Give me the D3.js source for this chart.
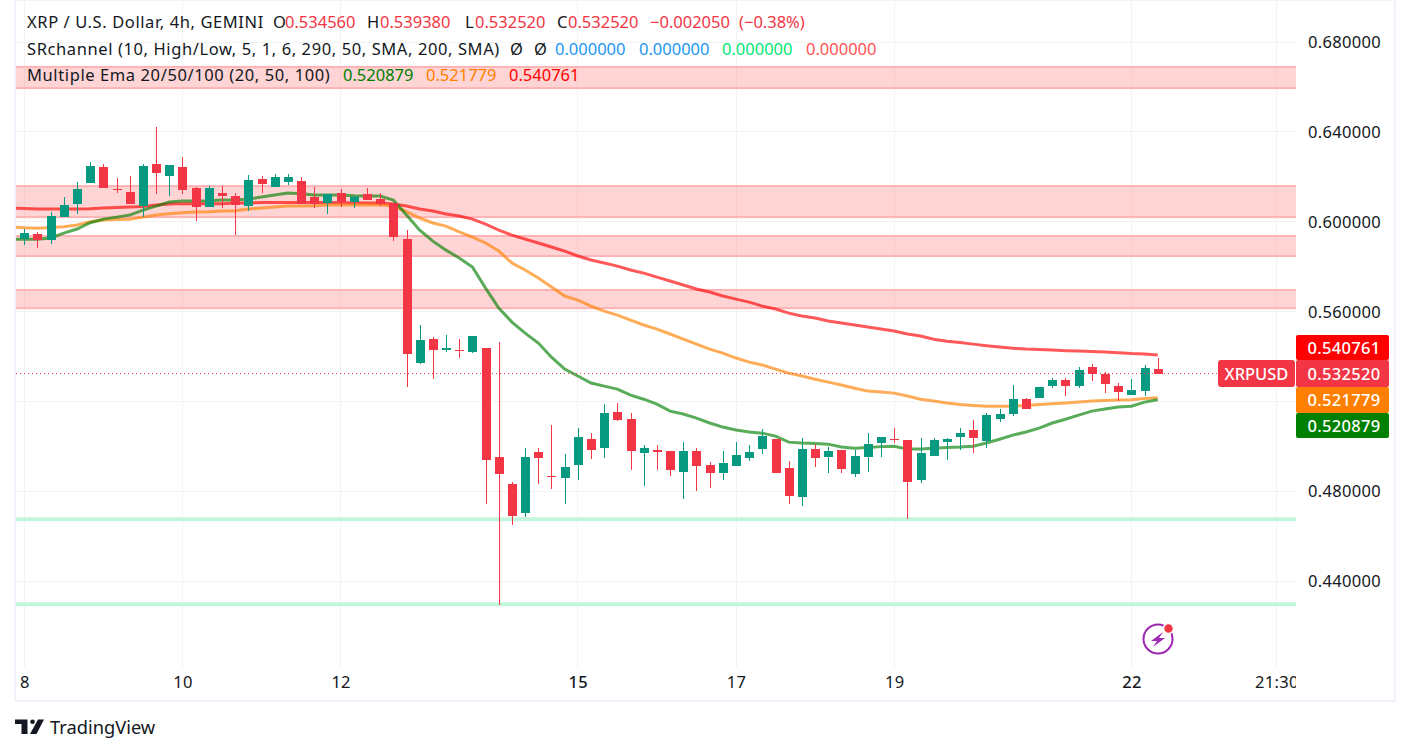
<!DOCTYPE html>
<html>
<head>
<meta charset="utf-8">
<script src="https://cdn.jsdelivr.net/npm/d3@7"></script>
<style>
  body { margin: 0; background: #fff; }
  svg { display: block; }
  text { font-family: "Noto Sans", sans-serif; }
  .legend text { font-size: 16.5px; }
  .axis path, .axis line { display: none; }
  .axis text { font-size: 16.5px; letter-spacing: .3px; fill: #131722; }
</style>
</head>
<body>
<svg width="1410" height="754"></svg>
<script>
// candles, 4h, one per index
const opens = [.5923,.5946,.5919,.6021,.6079,.6173,.6244,.6146,.6133,.6070,.6257,.6204,.6244,.6150,.6066,.6128,.6115,.6070,.6190,.6155,.6177,.6181,.6110,.6084,.6128,.6088,.6124,.6102,.6084,.5923,
  .5372,.5478,.5429,.5430,.5420,.5438,.4953,.4833,.4704,.4976,.4869,.4860,.4918,.5034,.4993,.5154,.5122,.4971,.4985,.4980,.4887,.4980,.4918,.4882,.4913,.4949,.4989,.5034,.4904,
  .4775,.4989,.4953,.4984,.4878,.4953,.5016,.5033,.5029,.4851,.4958,.5020,.5042,.5074,.5025,.5122,.5145,.5211,.5216,.5269,.5296,.5269,.5354,.5323,.5269,.5229,.5247,.53456]
const highs = [.5968,.5955,.6044,.6110,.6177,.6266,.6257,.6195,.6204,.6257,.6422,.6253,.6288,.6155,.6159,.6159,.6128,.6208,.6204,.6213,.6213,.6199,.6155,.6124,.6146,.6119,.6150,.6128,.6084,.5964,
  .5541,.5487,.5496,.5478,.5492,.5438,.5465,.4842,.4993,.4993,.5096,.4967,.5082,.5060,.5189,.5194,.5149,.5007,.5007,.4980,.5020,.4993,.4931,.4980,.5020,.5007,.5078,.5034,.4936,
  .5038,.5011,.4998,.4984,.4984,.5060,.5042,.5082,.5029,.5038,.5038,.5038,.5082,.5118,.5149,.5167,.5274,.5216,.5265,.5305,.5305,.5354,.5367,.5332,.5283,.5300,.5363,.53938]
const lows = [.5897,.5883,.5901,.6021,.6035,.6173,.6150,.6128,.6079,.6021,.6124,.6115,.6124,.6004,.6066,.6061,.5941,.6048,.6128,.6155,.6164,.6079,.6061,.6035,.6066,.6061,.6097,.6070,.5914,.5265,
  .5367,.5300,.5421,.5394,.5416,.4744,.4295,.4651,.4686,.4833,.4811,.4744,.4851,.4944,.4949,.5114,.4896,.4824,.4896,.4869,.4767,.4802,.4816,.4851,.4913,.4936,.4967,.4882,.4744,
  .4735,.4909,.4882,.4882,.4864,.4887,.4953,.5016,.4677,.4838,.4958,.4940,.4984,.4971,.4994,.5109,.5136,.5167,.5216,.5260,.5225,.5260,.5291,.5238,.5203,.5229,.5225,.53252]
const closes = [.5950,.5919,.6026,.6075,.6146,.6248,.6150,.6143,.6079,.6248,.6217,.6253,.6141,.6066,.6150,.6115,.6075,.6186,.6168,.6199,.6199,.6079,.6079,.6124,.6088,.6110,.6097,.6079,.5932,.5412,
  .5474,.5429,.5438,.5427,.5492,.4940,.4878,.4691,.4953,.4949,.4866,.4909,.5042,.4985,.5149,.5118,.4980,.4993,.4976,.4896,.4980,.4913,.4882,.4927,.4962,.4976,.5047,.4882,.4780,
  .4989,.4949,.4980,.4900,.4958,.5011,.5042,.5030,.4842,.4971,.5029,.5033,.5060,.5038,.5140,.5145,.5211,.5167,.5265,.5296,.5269,.5340,.5323,.5278,.5243,.5251,.5349,.53252]

// ema lines begin one candle before the first visible one
const ema20 = [.5923,.5923,.5923,.5928,.5950,.5968,.5996,.6012,.6021,.6030,.6052,.6070,.6088,.6093,.6093,.6094,.6097,.6097,.6101,.6110,.6119,.6128,.6125,.6119,.6119,.6119,.6116,.6115,.6115,.6097,.6030,
  .5963,.5914,.5874,.5839,.5799,.5705,.5616,.5554,.5505,.5461,.5398,.5345,.5314,.5283,.5269,.5256,.5229,.5211,.5189,.5158,.5145,.5127,.5105,.5087,.5074,.5065,.5060,.5047,.5020,
  .5016,.5014,.5011,.4998,.4993,.4996,.5000,.5002,.4989,.4989,.4993,.4996,.4998,.5002,.5016,.5033,.5051,.5065,.5082,.5105,.5122,.5140,.5158,.5167,.5176,.5180,.5198,.520879]
const ema50 = [.5977,.5974,.5972,.5975,.5978,.5986,.6000,.6008,.6010,.6012,.6021,.6030,.6036,.6040,.6044,.6045,.6048,.6049,.6057,.6061,.6066,.6070,.6070,.6072,.6075,.6075,.6075,.6075,.6075,.6070,.6045,
  .6017,.5995,.5981,.5955,.5932,.5906,.5870,.5817,.5786,.5750,.5710,.5670,.5652,.5625,.5603,.5585,.5563,.5541,.5523,.5501,.5478,.5456,.5434,.5416,.5394,.5376,.5363,.5345,.5327,
  .5314,.5300,.5287,.5274,.5260,.5247,.5243,.5238,.5225,.5211,.5203,.5194,.5187,.5183,.5180,.5180,.5180,.5183,.5187,.5191,.5194,.5198,.5203,.5205,.5207,.5209,.5214,.521779]
const ema100 = [.6061,.6059,.6057,.6057,.6057,.6057,.6058,.6061,.6064,.6066,.6068,.6075,.6079,.6081,.6081,.6081,.6081,.6084,.6084,.6086,.6086,.6086,.6086,.6086,.6086,.6085,.6085,.6084,.6084,.6079,.6070,
  .6057,.6048,.6035,.6026,.6012,.5990,.5963,.5941,.5923,.5906,.5888,.5870,.5848,.5830,.5817,.5803,.5786,.5772,.5754,.5737,.5719,.5701,.5688,.5670,.5656,.5643,.5625,.5612,.5594,
  .5581,.5572,.5559,.5550,.5541,.5532,.5523,.5514,.5501,.5492,.5478,.5469,.5463,.5456,.5449,.5443,.5438,.5434,.5432,.5430,.5427,.5425,.5423,.5421,.5418,.5414,.5412,.540761]

// support / resistance zones [top, bottom]
const resistZones = [[.6689,.6595],[.6159,.6021],[.5937,.5848],[.5697,.5616]]
const supportLevels = [.4677,.4299]

const priceTicks = [.68,.64,.60,.56,.52,.48,.44]
const timeTicks = [0,12,24,42,54,66,84,95]
const timeLabels = ['8','10','12','15','17','19','22','21:30']
const boldLabels = ['15','22']

const lastPrice = .53252
const tagValues = [.540761,.53252,.521779,.520879]
const tagColors = ['#ff0000','#f23645','#ff7f00','#008000']

const legendRows = [
  [[27,'XRP / U.S. Dollar, 4h, GEMINI','#131722'],[273,'O','#131722'],[285,'0.534560','#f23645'],[367,'H','#131722'],[380,'0.539380','#f23645'],[465,'L','#131722'],[475,'0.532520','#f23645'],[557,'C','#131722'],[568,'0.532520','#f23645'],[650,'−0.002050','#f23645'],[739,'(−0.38%)','#f23645']],
  [[27,'SRchannel (10, High/Low, 5, 1, 6, 290, 50, SMA, 200, SMA)','#131722'],[510,'Ø','#131722'],[534,'Ø','#131722'],[555,'0.000000','#2196f3'],[639,'0.000000','#2196f3'],[722,'0.000000','#00e676'],[806,'0.000000','#ff5252']],
  [[27,'Multiple Ema 20/50/100 (20, 50, 100)','#131722'],[343,'0.520879','#008000'],[426,'0.521779','#ff7f00'],[509,'0.540761','#ff0000']]
]

let svg = d3.select('svg')
let left = 16, right = 1296, bottom = 668

let x = d3.scaleLinear().domain([-0.63, 96.49]).range([left, right])
let y = d3.scaleLinear().domain([.68, .44]).range([42, 581.5])

svg.append('defs').append('clipPath').attr('id', 'plot')
  .append('rect').attr('x', left).attr('y', 0).attr('width', right - left).attr('height', bottom)
svg.select('defs').append('clipPath').attr('id', 'timeClip')
  .append('rect').attr('x', 0).attr('y', bottom).attr('width', right).attr('height', 32)

// frame
svg.append('rect').attr('x', 15).attr('y', 0).attr('width', 1380).attr('height', 701)
  .attr('fill', 'none').attr('stroke', '#f0f3fa').attr('stroke-width', 2)

// grid
let grid = svg.append('g').attr('stroke', '#f3f3f3').attr('shape-rendering', 'crispEdges')
grid.selectAll('.h').data(priceTicks).enter().append('line')
  .attr('x1', left).attr('x2', right).attr('y1', d => y(d)).attr('y2', d => y(d))
grid.selectAll('.v').data(timeTicks).enter().append('line')
  .attr('y1', 1).attr('y2', bottom).attr('x1', d => x(d)).attr('x2', d => x(d))

let plot = svg.append('g').attr('clip-path', 'url(#plot)')

// zones
plot.selectAll('.zone').data(resistZones).enter().append('rect')
  .attr('x', left - 2).attr('width', right - left + 4)
  .attr('y', d => y(d[0])).attr('height', d => y(d[1]) - y(d[0]))
  .attr('fill', 'rgba(255,82,82,.25)').attr('stroke', '#ffb3b5').attr('stroke-width', 2)
plot.selectAll('.level').data(supportLevels).enter().append('line')
  .attr('x1', left).attr('x2', right).attr('y1', d => y(d)).attr('y2', d => y(d))
  .attr('stroke', '#c1f6da').attr('stroke-width', 4)

// emas
let line = d3.line().x((d, i) => x(i - 1)).y(d => y(d)).curve(d3.curveLinear)
let emas = [[ema100, '#ff0000'], [ema50, '#ff7f00'], [ema20, '#008000']]
emas.forEach(function (e) {
  plot.append('path').attr('d', line(e[0])).attr('fill', 'none')
    .attr('stroke', e[1]).attr('stroke-opacity', .65).attr('stroke-width', 3)
})

// candles
let candles = plot.append('g').attr('shape-rendering', 'crispEdges')
let color = i => closes[i] >= opens[i] ? '#089981' : '#f23645'
candles.selectAll('.wick').data(opens).enter().append('rect')
  .attr('x', (d, i) => Math.round(x(i)) - 0.5).attr('width', 1)
  .attr('y', (d, i) => y(highs[i])).attr('height', (d, i) => y(lows[i]) - y(highs[i]))
  .attr('fill', (d, i) => color(i))
candles.selectAll('.body').data(opens).enter().append('rect')
  .attr('x', (d, i) => Math.round(x(i)) - 4.5).attr('width', 9)
  .attr('y', (d, i) => y(Math.max(d, closes[i])))
  .attr('height', (d, i) => Math.max(1, Math.abs(y(d) - y(closes[i]))))
  .attr('fill', (d, i) => color(i))

// last price dotted line
plot.append('line').attr('x1', left).attr('x2', 1218).attr('y1', y(lastPrice)).attr('y2', y(lastPrice))
  .attr('stroke', '#f23645').attr('stroke-dasharray', '1 3')

// axes
svg.append('g').attr('class', 'axis').attr('transform', 'translate(1299,0)')
  .call(d3.axisRight(y).tickValues(priceTicks).tickFormat(d3.format('.6f')).tickSize(0).tickPadding(9))
let xAxis = svg.append('g').attr('class', 'axis').attr('clip-path', 'url(#timeClip)')
  .append('g').attr('transform', 'translate(0,' + bottom + ')')
  .call(d3.axisBottom(x).tickValues(timeTicks).tickFormat((d, i) => timeLabels[i]).tickSize(0).tickPadding(8))
xAxis.selectAll('text').style('font-weight', (d, i) => boldLabels.includes(timeLabels[i]) ? 500 : 400)

// price tags
let tags = svg.append('g')
let tagTops = [335, 360, 387, 413], tagBottoms = [360, 387, 413, 438]
tags.selectAll('rect').data(tagValues).enter().append('rect')
  .attr('x', 1296).attr('width', 93).attr('y', (d, i) => tagTops[i])
  .attr('height', (d, i) => tagBottoms[i] - tagTops[i]).attr('fill', (d, i) => tagColors[i]).attr('rx', 2)
tags.selectAll('text').data(tagValues).enter().append('text')
  .attr('x', 1344).attr('y', (d, i) => (tagTops[i] + tagBottoms[i]) / 2 + 6)
  .attr('text-anchor', 'middle').attr('fill', '#fff').style('font-size', '16.5px').style('font-weight', 500).style('letter-spacing', '.3px')
  .text(d => d3.format('.6f')(d))
tags.append('rect').attr('x', 1218).attr('y', 360).attr('width', 77).attr('height', 27).attr('rx', 3).attr('fill', '#f23645')
tags.append('text').attr('x', 1256.5).attr('y', 379.5).attr('text-anchor', 'middle').attr('fill', '#fff')
  .style('font-size', '16.5px').style('font-weight', 500).text('XRPUSD')

// legend, only the long titles need the extra tracking
let legend = svg.append('g').attr('class', 'legend')
legendRows.forEach(function (row, r) {
  legend.selectAll('.r' + r).data(row).enter().append('text')
    .attr('x', d => d[0]).attr('y', [28, 55, 81][r]).attr('fill', d => d[2])
    .style('letter-spacing', d => d[1].length > 8 && d[2] === '#131722' ? '.6px' : '0')
    .text(d => d[1])
})

// lightning badge
let badge = svg.append('g').attr('transform', 'translate(1158,639)')
badge.append('circle').attr('r', 14.5).attr('fill', '#fff').attr('stroke', '#9c27b0').attr('stroke-width', 2)
badge.append('path').attr('d', 'M5-7L-7 2H-1L-5 8L7-1H1Z').attr('fill', '#9c27b0')
badge.append('circle').attr('cx', 10.5).attr('cy', -10.5).attr('r', 5).attr('fill', '#f23645').attr('stroke', '#fff').attr('stroke-width', 1.5)

// tradingview logo
let logo = svg.append('g').attr('transform', 'translate(15,719.5)').attr('fill', '#131722')
logo.append('path').attr('d', 'M0 0H12.5V14.5H6.5V4.5H0Z')
logo.append('circle').attr('cx', 17.5).attr('cy', 2.3).attr('r', 2.3)
logo.append('path').attr('d', 'M23 0H29L21.5 14.5H15Z')
svg.append('text').attr('x', 50).attr('y', 734).attr('fill', '#131722').style('font-size', '18.3px').text('TradingView')
</script>
</body>
</html>
